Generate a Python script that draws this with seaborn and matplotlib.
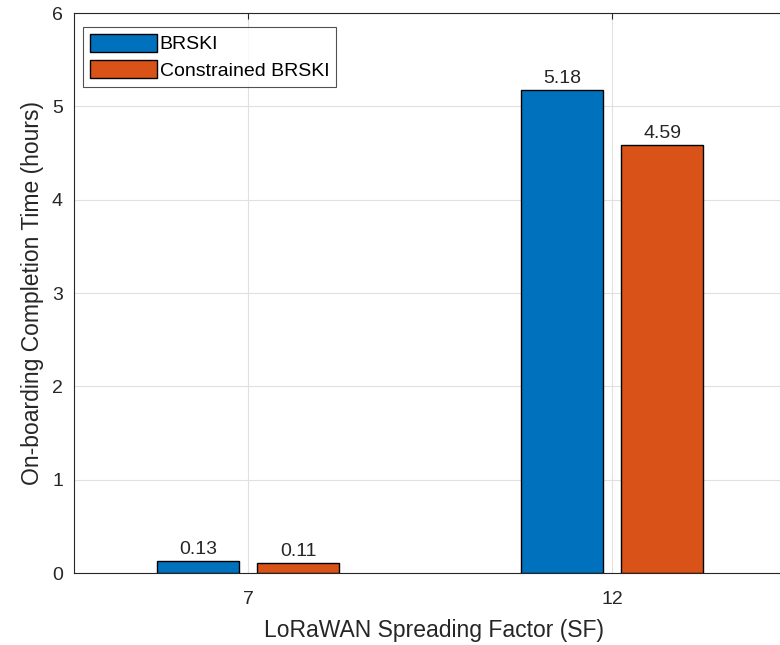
import pandas as pd
import numpy as np
import matplotlib
matplotlib.use("Agg")
import matplotlib.pyplot as plt
import seaborn as sns

# data
sf_labels = ["7", "12"]
brski = [0.13, 5.18]
constrained_brski = [0.11, 4.59]
series_names = ["BRSKI", "Constrained BRSKI"]
colors = ["#0072BD", "#D95319"]

df = pd.DataFrame({
    "SF": sf_labels * 2,
    "Time": brski + constrained_brski,
    "Method": [series_names[0]] * 2 + [series_names[1]] * 2,
})

sns.set_style("white")
plt.rcParams["font.family"] = ["Liberation Sans", "DejaVu Sans"]
text_color = "#262626"

fig = plt.figure(figsize=(7.8, 6.45), dpi=100)
ax = fig.add_axes([74 / 780, 72 / 645, 720 / 780, 560 / 645])

sns.barplot(data=df, x="SF", y="Time", hue="Method", order=sf_labels,
            hue_order=series_names, palette=colors, width=0.55, gap=0.18,
            edgecolor="black", linewidth=1.0, ax=ax, saturation=1)

for c in ax.containers:
    ax.bar_label(c, fmt="%.2f", padding=2, fontsize=14, color=text_color)

ax.set_xlim(-0.478, 1.5)
ax.set_ylim(0, 6)
ax.set_yticks(range(0, 7))
ax.grid(True, color="#e0e0e0", linewidth=0.8)
ax.set_axisbelow(True)

ax.tick_params(direction="in", length=4, color=text_color, labelcolor=text_color,
               labelsize=14, top=True, right=True)
ax.tick_params(axis="x", pad=13)
ax.tick_params(axis="y", pad=8)
for s in ax.spines.values():
    s.set_color(text_color)
    s.set_linewidth(0.8)
    s.set_visible(True)

ax.set_xlabel("LoRaWAN Spreading Factor (SF)", fontsize=16.5, color=text_color, labelpad=8)
ax.set_ylabel("On-boarding Completion Time (hours)", fontsize=16.5, color=text_color, labelpad=6)

leg = ax.legend(loc="upper left", fontsize=14, frameon=True, fancybox=False,
                edgecolor=text_color, handlelength=3.45, handleheight=1.03,
                handletextpad=0.15, borderpad=0.35, labelspacing=0.36,
                bbox_to_anchor=(0.0125, 0.975), borderaxespad=0)
leg.get_frame().set_linewidth(0.8)
for t in leg.get_texts():
    t.set_color("black")

fig.savefig("out.png", dpi=100)
